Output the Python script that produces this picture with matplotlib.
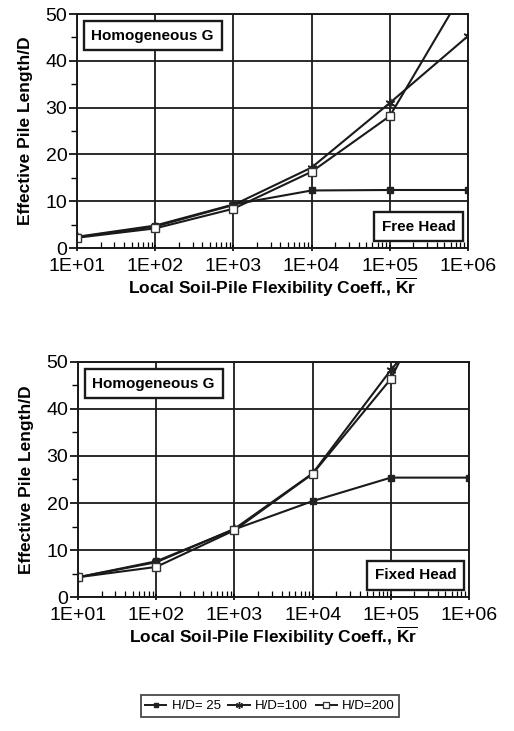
import matplotlib
matplotlib.use("Agg")
import matplotlib.pyplot as plt
import matplotlib.transforms as mtransforms
from matplotlib.ticker import FixedLocator, NullFormatter, LogLocator, MultipleLocator
from matplotlib.lines import Line2D

plt.rcParams['font.family'] = ['Liberation Sans', 'DejaVu Sans']
plt.rcParams['mathtext.fontset'] = 'custom'
plt.rcParams['mathtext.rm'] = 'Liberation Sans'
plt.rcParams['mathtext.bf'] = 'Liberation Sans:bold'

# Local soil-pile flexibility coefficient
kr = [1e1, 1e2, 1e3, 1e4, 1e5, 1e6]
xtick_labels = ["1E+01", "1E+02", "1E+03", "1E+04", "1E+05", "1E+06"]

# Effective pile length / D, free head
free_hd25 = [2.4, 4.8, 9.3, 12.3, 12.4, 12.4]
free_hd100 = [2.3, 4.6, 9.2, 17.2, 31.0, 45.3]
free_hd200 = [2.2, 4.2, 8.4, 16.3, 28.2, 56.5]

# Effective pile length / D, fixed head
fixed_hd25 = [4.2, 7.6, 14.4, 20.4, 25.4, 25.4]
fixed_hd100 = [4.2, 7.4, 14.5, 26.3, 48.3, 68.0]
fixed_hd200 = [4.2, 6.4, 14.2, 26.2, 46.4, 80.0]

series_labels = ["H/D= 25", "H/D=100", "H/D=200"]

fig = plt.figure(figsize=(5.14, 7.31), dpi=100)
fig.patch.set_facecolor('white')

styles = [
    dict(marker='s', markersize=5, markerfacecolor='#222222', markeredgecolor='#222222'),
    dict(marker=(6, 2, 0), markersize=7, markeredgewidth=1.2, markeredgecolor='#222222'),
    dict(marker='s', markersize=6, markerfacecolor='white', markeredgecolor='#333333', markeredgewidth=1.0),
]
legend_styles = [
    dict(marker='s', markersize=3.5, markerfacecolor='#222222', markeredgecolor='#222222'),
    dict(marker=(6, 2, 0), markersize=5, markeredgewidth=1.0, markeredgecolor='#222222'),
    dict(marker='s', markersize=4, markerfacecolor='white', markeredgecolor='#333333', markeredgewidth=0.9),
]


def draw_panel(rect, data, head_text):
    ax = fig.add_axes(rect)
    for y, st in zip(data, styles):
        ax.plot(kr, y, color='#1a1a1a', lw=1.5, clip_on=True, **st)
    ax.set_xscale('log')
    ax.set_xlim(1e1, 1e6)
    ax.set_ylim(0, 50)
    ax.xaxis.set_major_locator(FixedLocator(kr))
    ax.set_xticklabels(xtick_labels, fontsize=14)
    ax.xaxis.set_minor_locator(LogLocator(base=10, subs=range(2, 10)))
    ax.xaxis.set_minor_formatter(NullFormatter())
    ax.yaxis.set_major_locator(MultipleLocator(10))
    ax.yaxis.set_minor_locator(MultipleLocator(5))
    ax.tick_params(axis='y', which='major', labelsize=14, length=6, width=1.2, pad=1)
    ax.tick_params(axis='y', which='minor', length=4, width=1.0, direction='out')
    ax.tick_params(axis='x', which='major', length=5, width=1.2, direction='inout', pad=4.5)
    ax.tick_params(axis='x', which='minor', length=4, width=0.9, direction='in')
    ax.grid(True, which='major', color='#1a1a1a', lw=1.3)
    for s in ax.spines.values():
        s.set_linewidth(1.4)
        s.set_color('#1a1a1a')
    ax.set_ylabel("Effective Pile Length/D", fontsize=12.5, fontweight='bold', labelpad=9)
    ax.set_xlabel(r"Local Soil-Pile Flexibility Coeff., $\mathbf{\overline{Kr}}$",
                  fontsize=12.5, fontweight='bold', labelpad=1)
    # lift the "0" label a little so it sits just above the first x label
    fig.canvas.draw()
    zero_label = ax.get_yticklabels()[0]
    zero_label.set_transform(zero_label.get_transform() +
                             mtransforms.ScaledTranslation(0, 4 / 100, fig.dpi_scale_trans))
    box = dict(boxstyle='square,pad=0.5', facecolor='white', edgecolor='#1a1a1a', linewidth=1.7)
    ax.text(0.037, 0.938, "Homogeneous G", transform=ax.transAxes, fontsize=11,
            fontweight='bold', va='top', ha='left', bbox=box, zorder=5)
    ax.text(0.968, 0.062, head_text, transform=ax.transAxes, fontsize=11,
            fontweight='bold', va='bottom', ha='right', bbox=box, zorder=5)
    return ax


draw_panel([0.1498, 0.6607, 0.7607, 0.3201], [free_hd25, free_hd100, free_hd200], "Free Head")
draw_panel([0.1518, 0.1833, 0.7607, 0.3215], [fixed_hd25, fixed_hd100, fixed_hd200], "Fixed Head")

handles = [Line2D([], [], color='#1a1a1a', lw=1.4, **st) for st in legend_styles]
leg = fig.legend(handles, series_labels, loc='center', ncol=3,
                 bbox_to_anchor=(270 / 514, 1 - 706 / 731),
                 frameon=True, fancybox=False, handlelength=1.6, handletextpad=0.4,
                 columnspacing=0.6, borderpad=0.35,
                 prop={'weight': 'normal', 'size': 9.5})
leg.get_frame().set_edgecolor('#1a1a1a')
leg.get_frame().set_linewidth(1.3)

fig.savefig("out.png", dpi=100)
